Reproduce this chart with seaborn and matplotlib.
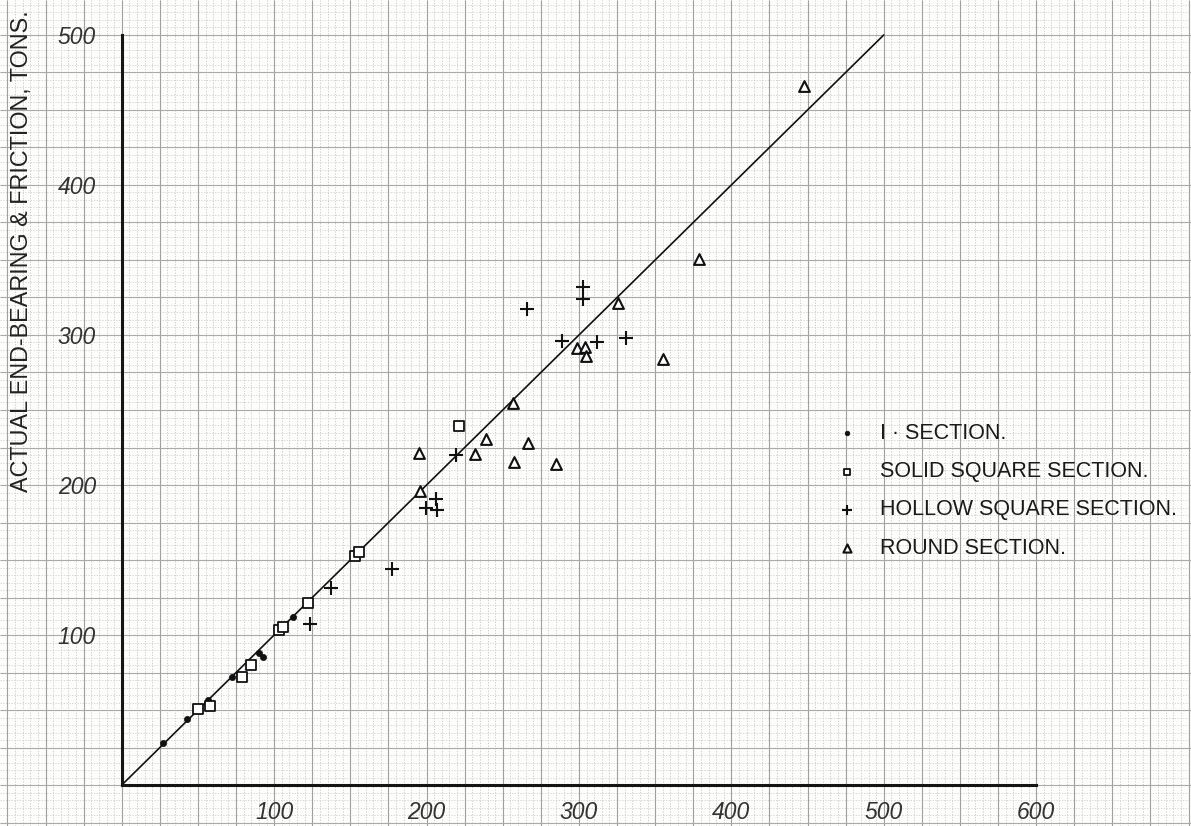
import numpy as np
import matplotlib
matplotlib.use("Agg")
import matplotlib.pyplot as plt
import seaborn as sns

# ---------------- data ----------------
i_x = [27.3, 43.1, 56.8, 72.6, 90.3, 92.5, 112.6]
i_y = [28.2, 44.0, 56.7, 71.8, 87.8, 85.5, 112.2]

solid_x = [49.9, 57.9, 78.9, 84.6, 103.4, 105.6, 122.5, 153.1, 155.7, 221.1]
solid_y = [50.4, 52.9, 71.8, 80.0, 103.3, 105.1, 121.5, 152.7, 155.6, 239.3]

hollow_x = [123.6, 137.1, 177.6, 199.5, 206.2, 207.1, 219.4, 265.7, 289.1,
            302.9, 302.9, 311.7, 330.9]
hollow_y = [107.3, 131.5, 144.0, 184.4, 190.4, 183.3, 220.0, 317.3, 296.0,
            331.8, 324.0, 295.6, 297.8]

round_x = [195.3, 195.7, 231.8, 238.8, 257.0, 257.6, 266.4, 285.0, 298.5,
           304.0, 304.4, 325.5, 355.0, 379.0, 447.9]
round_y = [221.1, 196.2, 220.4, 230.4, 254.4, 215.6, 227.8, 214.0, 291.1,
           291.8, 286.2, 321.5, 283.8, 350.4, 466.0]

line_x = [0, 500]
line_y = [0, 500]

series_labels = ["I · SECTION.", "SOLID SQUARE SECTION.",
                 "HOLLOW SQUARE SECTION.", "ROUND SECTION."]
x_ticks = [100, 200, 300, 400, 500, 600]
y_ticks = [100, 200, 300, 400, 500]
y_label = "ACTUAL END-BEARING & FRICTION, TONS."

# ---------------- style ----------------
sns.set_style("white")
plt.rcParams["font.family"] = ["Liberation Sans", "DejaVu Sans"]

fig = plt.figure(figsize=(11.91, 8.26), dpi=100)
fig.patch.set_facecolor("#fdfdfc")
ax = fig.add_axes([0, 0, 1, 1])
ax.set_facecolor("#fdfdfc")

XMIN, XMAX = -79.9, 701.6
YMIN, YMAX = -27.3, 523.3
ax.set_xlim(XMIN, XMAX)
ax.set_ylim(YMIN, YMAX)

# graph-paper background
minor_x = np.arange(-75, XMAX, 5)
minor_y = np.arange(-25, YMAX, 5)
major_x = np.arange(-75, XMAX, 25)
major_y = np.arange(-25, YMAX, 25)
ax.vlines(minor_x, YMIN, YMAX, colors="#c6c6c6", lw=0.6,
          linestyles=(0, (1.5, 1.8)), zorder=0)
ax.hlines(minor_y, XMIN, XMAX, colors="#cfcfcf", lw=0.6,
          linestyles=(0, (1.5, 1.8)), zorder=0)
ax.vlines(major_x, YMIN, YMAX, colors="#a0a0a0", lw=0.8, zorder=0.1)
ax.hlines(major_y, XMIN, XMAX, colors="#aaaaaa", lw=0.8, zorder=0.1)

# y = x reference line
sns.lineplot(x=line_x, y=line_y, color="#111111", lw=1.2, ax=ax,
             sort=False, estimator=None, zorder=2)

# data series
sns.scatterplot(x=i_x, y=i_y, marker="o", s=20, color="#111111",
                edgecolor="#111111", linewidth=0.5, ax=ax, zorder=4,
                label=series_labels[0])
sns.scatterplot(x=solid_x, y=solid_y, marker="s", s=42, color="#111111",
                facecolor="white", edgecolor="#111111", linewidth=1.3,
                ax=ax, zorder=4, label=series_labels[1])
sns.scatterplot(x=hollow_x, y=hollow_y, marker="+", s=110, color="#111111",
                linewidth=1.5, ax=ax, zorder=4, label=series_labels[2])
sns.scatterplot(x=round_x, y=round_y, marker="^", s=60, color="#111111",
                facecolor="white", edgecolor="#111111", linewidth=1.5,
                ax=ax, zorder=4, label=series_labels[3])

# axes (spines through origin)
for s in ["top", "right"]:
    ax.spines[s].set_visible(False)
ax.spines["left"].set_position(("data", 0))
ax.spines["bottom"].set_position(("data", 0))
ax.spines["left"].set_bounds(0, 500)
ax.spines["bottom"].set_bounds(0, 600)
for s in ["left", "bottom"]:
    ax.spines[s].set_linewidth(2.2)
    ax.spines[s].set_color("#151515")
    ax.spines[s].set_zorder(3)

ax.set_xticks(x_ticks)
ax.set_yticks(y_ticks)
ax.set_xticklabels([str(t) for t in x_ticks])
ax.set_yticklabels([str(t) for t in y_ticks])
ax.tick_params(axis="both", direction="inout", length=7, width=1.6,
               color="#151515", labelcolor="#333333")
ax.tick_params(axis="x", pad=8.3)
ax.tick_params(axis="y", pad=15)
for lab in ax.get_xticklabels() + ax.get_yticklabels():
    lab.set_fontsize(16.5)
    lab.set_fontstyle("italic")

ax.set_ylabel(y_label, fontsize=16.8, color="#222222")
ax.yaxis.set_label_coords(33 / 1191, 1 - 251 / 826)

handles, labels = ax.get_legend_handles_labels()
handles = [h for h, l in zip(handles, labels) if l in series_labels]
labels = [l for l in labels if l in series_labels]
leg = ax.legend(handles, labels, loc="upper left",
                bbox_to_anchor=(836 / 1191, 1 - 423 / 826),
                frameon=False, borderpad=0, borderaxespad=0,
                handlelength=1, handletextpad=1.03, labelspacing=0.80,
                fontsize=15.5, markerscale=0.75)
for t in leg.get_texts():
    t.set_color("#1a1a1a")

fig.savefig("out.png", dpi=100, facecolor=fig.get_facecolor())
